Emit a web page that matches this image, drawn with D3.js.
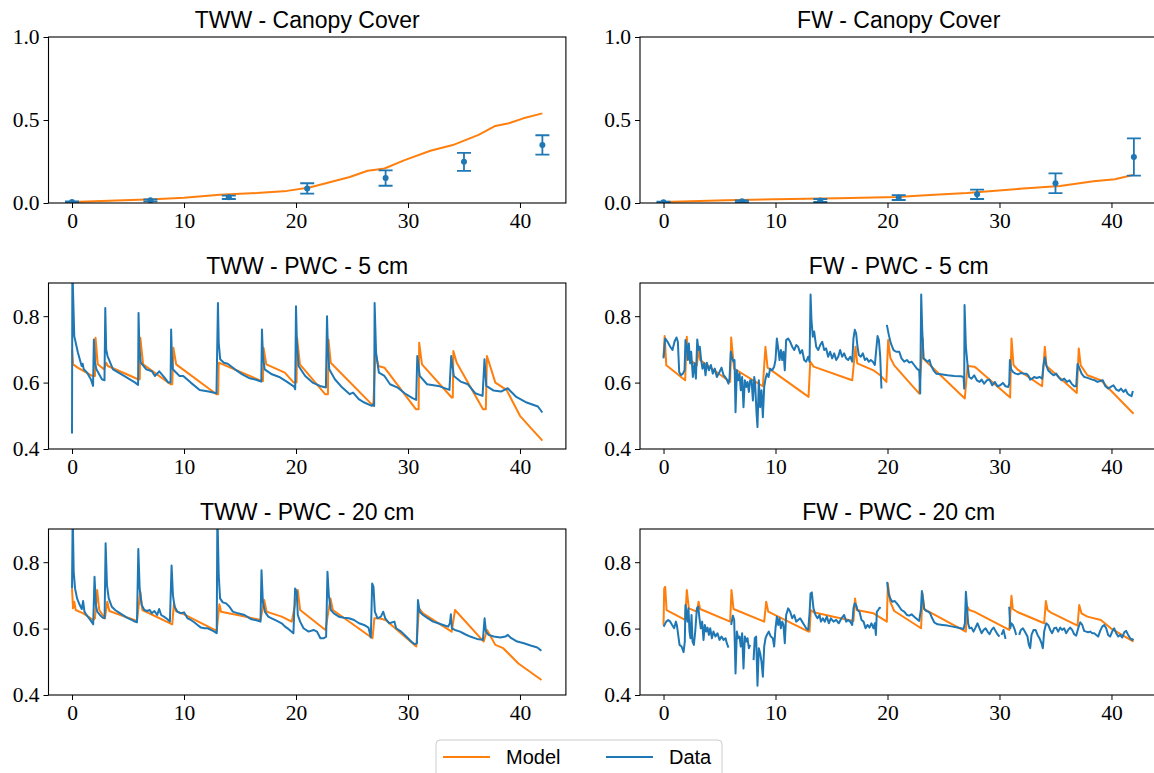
<!DOCTYPE html>
<html>
<head>
<meta charset="utf-8">
<script src="https://cdn.jsdelivr.net/npm/d3@7"></script>
<style>
body { margin: 0; background: #fff; }
svg { display: block; }
.tick text { font-family: "Liberation Serif", serif; font-size: 21.5px; fill: #000; }
.title, .legend text { font-family: "Liberation Sans", Arial, sans-serif; fill: #000; }
</style>
</head>
<body>
<svg id="chart" width="1154" height="773"></svg>
<script>
// canopy cover: measured points (mean, error) at weekly days
const canopyDays = [0, 7, 14, 21, 28, 35, 42];
const twwCanopyMean = [0.006, 0.016, 0.034, 0.088, 0.15, 0.248, 0.35];
const twwCanopyErr = [0.004, 0.006, 0.01, 0.031, 0.046, 0.054, 0.058];
const fwCanopyMean = [0.004, 0.01, 0.015, 0.033, 0.052, 0.119, 0.277];
const fwCanopyErr = [0.004, 0.005, 0.009, 0.015, 0.028, 0.06, 0.112];

// canopy cover model, [day, value]
const twwCanopyModel = [[0,0.006],[3.3,0.014],[7.3,0.022],[10,0.032],[13.2,0.05],[16.5,0.06],[19.2,0.073],
  [21.2,0.093],[23.1,0.127],[24.8,0.157],[26.4,0.194],[27.1,0.2],[27.9,0.208],[29.7,0.258],[32,0.315],
  [34,0.349],[36.3,0.41],[37.8,0.464],[39,0.48],[40.3,0.51],[42,0.54]];
const fwCanopyModel = [[0,0.006],[5.6,0.016],[10,0.022],[15.6,0.028],[20.8,0.036],[23.8,0.048],[27.1,0.06],
  [28.8,0.069],[32.1,0.087],[35.4,0.103],[38.4,0.131],[40.3,0.143],[42,0.17]];

// PWC 5 cm, TWW
const twwPwc5Model = [[0,0.70],[0.1,0.655],[0.5,0.645],[1.8,0.62],[2.05,0.62],[2.1,0.735],[2.3,0.655],[2.85,0.64],
  [3.05,0.66],[3.2,0.65],[5.9,0.61],[6.05,0.61],[6.1,0.735],[6.35,0.655],[8.8,0.595],[8.95,0.595],[9.05,0.705],
  [9.3,0.655],[12.9,0.565],[13.05,0.565],[13.1,0.66],[16.9,0.605],[17.05,0.605],[17.1,0.705],[17.35,0.655],
  [19,0.63],[19.8,0.60],[20.05,0.60],[20.1,0.735],[20.35,0.655],[22.6,0.565],[22.85,0.565],[22.9,0.73],
  [23.1,0.66],[26.9,0.53],[27.1,0.69],[27.35,0.65],[27.9,0.645],[30.7,0.52],[30.95,0.52],[31,0.72],
  [31.25,0.655],[33.9,0.555],[34,0.555],[34.05,0.695],[34.35,0.66],[36.7,0.52],[36.95,0.52],[37.05,0.68],
  [37.8,0.60],[38.8,0.578],[40,0.50],[41,0.462],[42,0.425]];
const twwPwc5Data = [[0,0.447],[0.03,0.95],[0.2,0.74],[0.53,0.69],[0.86,0.65],[0.95,0.657],[1.05,0.64],[1.35,0.63],
  [1.68,0.61],[1.88,0.59],[1.95,0.73],[2.05,0.66],[2.18,0.64],[2.67,0.61],[2.9,0.607],[2.97,0.825],[3.05,0.70],
  [3.17,0.68],[3.66,0.64],[4.65,0.62],[5.64,0.60],[5.9,0.593],[5.94,0.81],[6.02,0.70],[6.14,0.66],[6.63,0.64],
  [7.13,0.634],[7.4,0.62],[7.79,0.634],[8.28,0.614],[8.6,0.60],[8.8,0.60],[8.85,0.76],[8.92,0.68],[9,0.64],
  [9.6,0.62],[9.93,0.62],[10.6,0.60],[11.4,0.578],[12.2,0.573],[12.9,0.568],[13.03,0.84],[13.1,0.72],
  [13.23,0.67],[13.56,0.66],[13.9,0.657],[14.55,0.64],[15.2,0.625],[15.87,0.613],[16.5,0.608],[16.9,0.603],
  [16.96,0.76],[17.05,0.68],[17.2,0.64],[17.85,0.625],[18.5,0.617],[19.17,0.603],[19.83,0.588],[19.93,0.58],
  [20,0.83],[20.08,0.72],[20.23,0.65],[20.82,0.62],[21.48,0.6],[22.14,0.59],[22.67,0.585],[22.77,0.80],
  [22.85,0.70],[22.97,0.64],[23.47,0.61],[24.13,0.585],[24.8,0.565],[25.1,0.57],[25.6,0.55],[26.1,0.54],
  [26.77,0.53],[26.9,0.535],[26.98,0.53],[27.02,0.84],[27.15,0.69],[27.4,0.63],[27.9,0.62],[28.4,0.595],
  [29.07,0.585],[29.7,0.568],[30.4,0.553],[30.73,0.548],[30.83,0.68],[31.05,0.62],[31.7,0.595],[32.7,0.59],
  [33.7,0.578],[33.86,0.68],[34.09,0.62],[34.7,0.603],[35.35,0.595],[36,0.568],[36.66,0.56],[36.83,0.67],
  [36.99,0.59],[37.65,0.576],[38.3,0.573],[38.9,0.583],[39.63,0.558],[40.6,0.54],[41.6,0.528],[42,0.51]];

// PWC 5 cm, FW (null = gap in the record)
const fwPwc5Model = [[0,0.678],[0.1,0.74],[0.25,0.652],[1.93,0.607],[2.08,0.738],[2.2,0.673],[2.98,0.652],
  [3.13,0.703],[3.27,0.668],[5.95,0.602],[6.04,0.736],[6.3,0.642],[8.87,0.589],[9.1,0.708],[9.29,0.645],
  [12.95,0.557],[13.1,0.663],[13.4,0.648],[16.85,0.607],[17.14,0.708],[17.3,0.658],[18.75,0.637],[19.35,0.622],
  [19.9,0.602],[20.06,0.728],[20.25,0.675],[20.6,0.652],[22.83,0.567],[23.15,0.733],[23.2,0.673],[23.5,0.662],
  [26.9,0.552],[27.15,0.65],[27.74,0.648],[28,0.642],[30.95,0.555],[31.07,0.733],[31.25,0.653],[31.6,0.64],
  [33.8,0.589],[34.05,0.708],[34.2,0.65],[36.9,0.569],[37.08,0.703],[37.25,0.652],[37.85,0.622],[39.05,0.607],
  [41.97,0.506]];
const fwPwc5Data = [[0,0.673],[0.15,0.733],[0.36,0.723],[0.6,0.708],[0.8,0.698],[0.98,0.723],[1.16,0.736],
  [1.28,0.723],[1.4,0.632],[1.55,0.622],[1.73,0.627],[1.88,0.637],[1.96,0.728],[2.08,0.708],[2.17,0.668],
  [2.26,0.718],[2.38,0.658],[2.47,0.693],[2.62,0.617],[2.77,0.658],[2.89,0.612],[3.01,0.73],[3.13,0.698],
  [3.24,0.708],[3.36,0.668],[3.48,0.642],[3.63,0.658],[3.75,0.622],[3.87,0.66],[4.05,0.637],[4.23,0.653],
  [4.4,0.627],[4.58,0.642],[4.76,0.617],[5,0.632],[5.18,0.645],[5.36,0.622],[5.51,0.617],[5.65,0.609],
  [5.8,0.597],[5.89,0.612],[6.01,0.693],[6.13,0.673],[6.25,0.663],[6.34,0.668],[6.43,0.511],[6.55,0.637],
  [6.67,0.607],[6.79,0.627],[6.9,0.577],[7.02,0.617],[7.14,0.526],[7.26,0.607],[7.38,0.587],[7.5,0.602],
  [7.62,0.572],[7.74,0.607],[7.86,0.607],[7.98,0.546],[8.1,0.617],[8.18,0.597],[8.3,0.511],[8.39,0.466],
  [8.51,0.607],[8.63,0.526],[8.75,0.577],[8.87,0.496],[8.99,0.587],[9.11,0.612],[9.23,0.627],[9.38,0.617],
  [9.52,0.642],[9.7,0.637],[9.88,0.648],[10,0.668],[10.12,0.733],[10.24,0.703],[10.36,0.668],[10.48,0.698],
  [10.6,0.668],[10.71,0.693],[10.83,0.637],[10.95,0.728],[11.13,0.733],[11.31,0.723],[11.49,0.708],
  [11.67,0.698],[11.85,0.713],[12.02,0.708],[12.2,0.688],[12.38,0.698],[12.56,0.668],[12.74,0.663],
  [12.92,0.678],[13.04,0.663],[13.13,0.865],[13.21,0.789],[13.33,0.738],[13.45,0.754],[13.63,0.708],
  [13.81,0.698],[13.99,0.713],[14.17,0.723],[14.35,0.698],[14.52,0.703],[14.7,0.678],[14.88,0.693],
  [15.06,0.673],[15.24,0.688],[15.42,0.668],[15.6,0.678],[15.77,0.698],[15.95,0.678],[16.13,0.688],
  [16.31,0.673],[16.49,0.668],[16.67,0.678],[16.85,0.663],[16.96,0.733],[17.08,0.759],[17.2,0.748],
  [17.32,0.708],[17.44,0.683],[17.62,0.678],[17.8,0.688],[17.98,0.668],[18.15,0.673],[18.33,0.663],
  [18.51,0.668],[18.69,0.663],[18.87,0.653],[18.99,0.698],[19.11,0.74],[19.23,0.728],[19.35,0.678],
  [19.46,0.582],null,[19.94,0.774],[20.12,0.743],[20.3,0.718],[20.54,0.698],[20.77,0.693],[21.05,0.693],
  [21.25,0.673],[21.49,0.663],[21.73,0.668],[21.94,0.66],[22.15,0.663],[22.38,0.653],[22.62,0.642],
  [22.83,0.637],[22.92,0.567],[23.01,0.865],[23.1,0.759],[23.22,0.673],[23.4,0.668],[23.58,0.663],
  [23.75,0.668],[23.87,0.653],[24.11,0.637],[24.35,0.627],[24.77,0.625],[25.36,0.622],[25.96,0.62],
  [26.55,0.619],[26.79,0.617],[26.85,0.582],[26.88,0.834],[27,0.708],[27.15,0.653],[27.29,0.617],
  [27.5,0.612],[27.74,0.622],[27.98,0.607],[28.22,0.602],[28.4,0.609],[28.63,0.597],[28.87,0.607],
  [29.11,0.609],[29.35,0.592],[29.59,0.602],[29.82,0.589],[30.06,0.592],[30.3,0.599],[30.54,0.589],
  [30.78,0.587],[30.87,0.597],[30.93,0.668],[31.02,0.642],[31.2,0.632],[31.43,0.627],[31.67,0.625],
  [31.91,0.629],[32.15,0.627],[32.38,0.627],[32.56,0.622],[32.74,0.609],[32.92,0.612],[33.1,0.617],
  [33.33,0.614],[33.57,0.617],[33.81,0.612],[33.93,0.653],[34.05,0.676],[34.17,0.653],[34.35,0.637],
  [34.58,0.629],[34.82,0.622],[35.06,0.627],[35.3,0.615],[35.54,0.607],[35.78,0.612],[36.01,0.602],
  [36.25,0.607],[36.43,0.597],[36.67,0.589],[36.85,0.589],[36.97,0.656],[37.15,0.642],[37.33,0.627],
  [37.56,0.617],[37.8,0.615],[38.04,0.612],[38.28,0.609],[38.51,0.607],[38.75,0.602],[38.99,0.605],
  [39.23,0.607],[39.46,0.589],[39.7,0.582],[39.94,0.587],[40.18,0.592],[40.42,0.579],[40.66,0.575],
  [40.84,0.582],[41.08,0.572],[41.26,0.579],[41.43,0.567],[41.61,0.562],[41.79,0.559],[41.91,0.575]];

// PWC 20 cm, TWW
const twwPwc20Model = [[0,0.721],[0.09,0.661],[0.2,0.681],[0.33,0.656],[1,0.646],[1.9,0.626],[2.05,0.631],
  [2.25,0.716],[2.43,0.656],[2.94,0.631],[3.15,0.681],[3.33,0.653],[5.8,0.623],[6.1,0.711],[6.28,0.656],
  [8.95,0.613],[9.1,0.676],[9.28,0.653],[10,0.643],[12.92,0.593],[13.16,0.673],[13.31,0.651],[15.1,0.639],
  [16.83,0.626],[17.16,0.686],[17.37,0.651],[18.72,0.636],[19.62,0.621],[20.16,0.716],[20.37,0.656],
  [22.63,0.596],[23.08,0.691],[23.29,0.656],[26.83,0.571],[27,0.631],[27.4,0.631],[28,0.626],[30.74,0.546],
  [30.98,0.661],[31.34,0.646],[33.9,0.591],[34.2,0.656],[36.76,0.561],[37.06,0.596],[37.8,0.551],
  [38.5,0.541],[39.86,0.495],[41.92,0.445]];
const twwPwc20Data = [[0,0.721],[0.06,0.95],[0.15,0.771],[0.27,0.721],[0.45,0.691],[0.69,0.671],[0.87,0.659],
  [0.99,0.683],[1.11,0.651],[1.29,0.641],[1.53,0.631],[1.74,0.621],[1.89,0.613],[2.01,0.756],[2.13,0.671],
  [2.25,0.651],[2.49,0.641],[2.73,0.633],[2.91,0.631],[3,0.857],[3.12,0.731],[3.28,0.691],[3.55,0.666],
  [3.85,0.656],[4.3,0.646],[4.9,0.633],[5.5,0.623],[5.8,0.619],[5.92,0.84],[6.04,0.721],[6.22,0.671],
  [6.46,0.656],[6.7,0.653],[6.94,0.656],[7.12,0.646],[7.36,0.653],[7.6,0.641],[7.78,0.659],[7.96,0.641],
  [8.2,0.636],[8.5,0.629],[8.74,0.621],[8.89,0.79],[9.01,0.701],[9.16,0.666],[9.41,0.651],[9.71,0.646],
  [10,0.649],[10.31,0.631],[10.61,0.626],[10.91,0.619],[11.21,0.611],[11.51,0.603],[11.81,0.601],
  [12.11,0.601],[12.41,0.596],[12.71,0.591],[12.92,0.586],[12.98,0.95],[13.1,0.761],[13.22,0.691],
  [13.46,0.679],[13.76,0.676],[14.06,0.666],[14.36,0.651],[14.81,0.646],[15.41,0.641],[16.02,0.628],
  [16.47,0.625],[16.83,0.621],[16.92,0.776],[17.04,0.681],[17.22,0.651],[17.52,0.636],[17.82,0.631],
  [18.12,0.626],[18.42,0.621],[18.72,0.616],[19.02,0.606],[19.32,0.599],[19.77,0.586],[19.92,0.721],
  [20.07,0.711],[20.16,0.641],[20.37,0.621],[20.67,0.601],[21.12,0.591],[21.57,0.596],[21.87,0.591],
  [22.18,0.571],[22.48,0.571],[22.69,0.576],[22.81,0.771],[22.93,0.701],[23.11,0.656],[23.38,0.646],
  [23.83,0.636],[24.28,0.633],[24.73,0.631],[25.18,0.626],[25.63,0.616],[26.08,0.611],[26.47,0.603],
  [26.68,0.573],[26.8,0.736],[26.92,0.726],[27.04,0.651],[27.28,0.631],[27.58,0.636],[27.79,0.651],
  [27.97,0.631],[28.33,0.616],[28.79,0.621],[28.94,0.601],[29.39,0.591],[29.84,0.576],[30.29,0.561],
  [30.59,0.553],[30.8,0.556],[30.89,0.686],[31.04,0.651],[31.34,0.641],[31.79,0.631],[32.24,0.621],
  [32.69,0.616],[33.14,0.611],[33.59,0.606],[33.74,0.616],[33.83,0.643],[33.92,0.601],[34.19,0.596],
  [34.65,0.591],[35.1,0.583],[35.55,0.576],[36.15,0.569],[36.69,0.566],[36.84,0.631],[36.96,0.591],
  [37.2,0.581],[37.65,0.576],[38.25,0.573],[38.7,0.576],[38.91,0.581],[39.15,0.573],[39.75,0.561],
  [40.35,0.556],[40.95,0.549],[41.55,0.543],[41.91,0.533]];

// PWC 20 cm, FW (null = gap in the record)
const fwPwc20Model = [[0,0.611],[0.06,0.721],[0.15,0.726],[0.27,0.656],[1.93,0.626],[2.08,0.716],[2.26,0.661],
  [2.98,0.651],[3.13,0.681],[3.27,0.659],[5.95,0.621],[6.07,0.716],[6.25,0.659],[8.99,0.621],[9.17,0.681],
  [9.35,0.651],[12.95,0.591],[13.04,0.591],[13.15,0.656],[13.4,0.649],[15.18,0.636],[16.96,0.623],
  [17.1,0.691],[17.26,0.656],[18.75,0.646],[19.94,0.621],[20.03,0.736],[20.24,0.681],[20.6,0.653],
  [23,0.601],[23.13,0.706],[23.28,0.659],[26.99,0.591],[27.14,0.666],[27.3,0.656],[27.74,0.651],
  [30.87,0.596],[31.07,0.699],[31.19,0.659],[31.6,0.65],[33.99,0.616],[34.14,0.683],[34.29,0.656],
  [34.6,0.648],[36.97,0.609],[37.12,0.671],[37.32,0.646],[37.85,0.636],[39.05,0.626],[39.94,0.601],
  [41.97,0.561]];
const fwPwc20Data = [[0,0.606],[0.06,0.609],[0.24,0.621],[0.42,0.626],[0.6,0.621],[0.77,0.611],[0.95,0.601],
  [1.1,0.621],[1.19,0.611],[1.31,0.581],[1.43,0.551],[1.61,0.546],[1.79,0.529],[1.9,0.561],[1.96,0.671],
  [2.05,0.651],[2.14,0.621],[2.23,0.661],[2.32,0.591],[2.41,0.571],[2.5,0.641],[2.59,0.561],[2.71,0.551],
  [2.83,0.591],[2.98,0.661],[3.1,0.666],[3.21,0.631],[3.33,0.601],[3.45,0.621],[3.57,0.566],[3.69,0.611],
  [3.81,0.591],[3.93,0.603],[4.05,0.581],[4.17,0.601],[4.32,0.571],[4.46,0.591],[4.64,0.576],[4.82,0.586],
  [5,0.566],[5.18,0.576],[5.36,0.566],[5.54,0.571],[5.65,0.556],[5.8,0.543],null,[6.04,0.611],[6.19,0.639],
  [6.31,0.626],[6.43,0.465],[6.55,0.591],[6.67,0.571],[6.79,0.576],[6.9,0.546],[7.02,0.586],[7.14,0.48],
  [7.26,0.576],[7.38,0.561],[7.5,0.571],[7.62,0.541],[7.74,0.551],null,[8.04,0.505],[8.15,0.571],
  [8.27,0.576],[8.39,0.428],[8.51,0.541],[8.63,0.526],[8.75,0.5],[8.87,0.455],[8.99,0.546],[9.11,0.571],
  [9.23,0.581],[9.4,0.591],[9.58,0.576],[9.76,0.571],[9.88,0.546],[10,0.601],[10.12,0.636],[10.24,0.611],
  [10.36,0.631],[10.48,0.601],[10.6,0.621],[10.71,0.611],[10.83,0.556],[10.95,0.641],[11.13,0.661],
  [11.31,0.651],[11.49,0.631],[11.67,0.641],[11.85,0.621],[12.02,0.626],[12.2,0.631],[12.38,0.621],
  [12.56,0.611],[12.74,0.601],[12.92,0.596],[13.04,0.646],[13.13,0.706],[13.24,0.709],[13.39,0.661],
  [13.57,0.641],[13.75,0.631],[13.93,0.641],[14.05,0.621],[14.23,0.631],[14.4,0.621],[14.58,0.636],
  [14.76,0.616],[14.94,0.631],[15.18,0.621],[15.42,0.626],[15.65,0.616],[15.89,0.631],[16.13,0.641],
  [16.31,0.621],[16.49,0.626],[16.67,0.621],[16.85,0.611],[16.96,0.661],[17.08,0.676],[17.2,0.671],
  [17.32,0.656],[17.5,0.651],[17.68,0.626],[17.86,0.621],[18.04,0.601],[18.21,0.611],[18.39,0.603],
  [18.57,0.616],[18.75,0.601],[18.87,0.616],[18.96,0.581],[19.05,0.651],[19.17,0.656],[19.29,0.663],
  [19.4,0.661],null,[19.97,0.741],[20.09,0.706],[20.24,0.691],[20.42,0.681],[20.65,0.683],[20.83,0.676],
  [21.05,0.666],[21.25,0.656],[21.49,0.651],[21.73,0.641],[21.94,0.639],[22.15,0.643],[22.38,0.636],
  [22.62,0.629],[22.83,0.623],[22.98,0.656],[23.07,0.713],[23.16,0.691],[23.28,0.659],[23.46,0.653],
  [23.64,0.651],[23.81,0.646],[23.99,0.631],[24.17,0.619],[24.47,0.613],[24.91,0.611],[25.36,0.609],
  [25.81,0.606],[26.25,0.603],[26.55,0.601],[26.79,0.599],[26.91,0.616],[27,0.711],[27.09,0.671],
  [27.2,0.616],[27.32,0.601],[27.5,0.603],[27.68,0.591],[27.86,0.603],[28.04,0.616],[28.22,0.601],
  [28.4,0.586],[28.58,0.596],[28.76,0.601],[28.93,0.591],[29.11,0.583],[29.29,0.596],[29.47,0.603],
  [29.65,0.593],[29.82,0.583],[30,0.576],null,[30.18,0.581],[30.36,0.596],[30.54,0.569],null,[30.87,0.666],
  [30.96,0.601],[31.07,0.616],[31.19,0.611],[31.37,0.596],[31.49,0.581],null,[31.76,0.581],[31.91,0.596],
  [32.09,0.601],[32.26,0.591],[32.5,0.576],[32.62,0.551],[32.74,0.541],[32.86,0.581],[33.04,0.596],
  [33.22,0.596],[33.4,0.581],[33.57,0.571],[33.75,0.556],[33.87,0.541],[33.99,0.591],[34.17,0.616],
  [34.35,0.611],[34.53,0.596],[34.7,0.586],[34.88,0.601],[35.06,0.603],[35.24,0.591],[35.42,0.603],
  [35.6,0.596],[35.78,0.601],[35.95,0.586],[36.13,0.596],[36.31,0.603],[36.49,0.596],[36.67,0.583],
  [36.85,0.579],[37.03,0.601],[37.21,0.619],[37.39,0.611],[37.56,0.593],[37.74,0.591],[37.92,0.589],
  [38.1,0.591],[38.28,0.586],[38.46,0.586],[38.64,0.581],[38.81,0.576],[38.99,0.593],[39.17,0.606],
  [39.35,0.611],[39.53,0.601],[39.7,0.581],[39.88,0.576],[40.06,0.591],[40.24,0.601],[40.42,0.586],
  [40.6,0.576],[40.78,0.581],[40.96,0.573],[41.14,0.589],[41.31,0.593],[41.49,0.581],[41.67,0.571],
  [41.85,0.566],[41.97,0.569]];

const xTicks = [0, 10, 20, 30, 40];
const canopyTicks = [0, 0.5, 1.0];
const pwcTicks = [0.4, 0.6, 0.8];

const orange = '#ff7f0e', blue = '#1f77b4';
const colX = [48.5, 640], axW = 517.4;
const rowY = [37, 283, 529], axH = 166;

const panels = [
  {title: 'TWW - Canopy Cover', row: 0, col: 0, yDom: [0, 1], ticks: canopyTicks, model: twwCanopyModel, mean: twwCanopyMean, err: twwCanopyErr},
  {title: 'FW - Canopy Cover', row: 0, col: 1, yDom: [0, 1], ticks: canopyTicks, model: fwCanopyModel, mean: fwCanopyMean, err: fwCanopyErr},
  {title: 'TWW - PWC - 5 cm', row: 1, col: 0, yDom: [0.4, 0.9], ticks: pwcTicks, model: twwPwc5Model, data: twwPwc5Data},
  {title: 'FW - PWC - 5 cm', row: 1, col: 1, yDom: [0.4, 0.9], ticks: pwcTicks, model: fwPwc5Model, data: fwPwc5Data},
  {title: 'TWW - PWC - 20 cm', row: 2, col: 0, yDom: [0.4, 0.9], ticks: pwcTicks, model: twwPwc20Model, data: twwPwc20Data},
  {title: 'FW - PWC - 20 cm', row: 2, col: 1, yDom: [0.4, 0.9], ticks: pwcTicks, model: fwPwc20Model, data: fwPwc20Data}
];

const svg = d3.select('#chart');
const defs = svg.append('defs');

panels.forEach(function (p, i) {
  const g = svg.append('g')
    .attr('transform', 'translate(' + colX[p.col] + ',' + rowY[p.row] + ')');
  const x = d3.scaleLinear().domain([-2.1, 44.1]).range([0, axW]);
  const y = d3.scaleLinear().domain(p.yDom).range([axH, 0]);

  defs.append('clipPath').attr('id', 'clip' + i)
    .append('rect').attr('width', axW).attr('height', axH);
  const plot = g.append('g').attr('clip-path', 'url(#clip' + i + ')');

  const line = d3.line()
    .defined(d => d !== null)
    .x(d => x(d[0]))
    .y(d => y(d[1]));

  plot.append('path')
    .datum(p.model)
    .attr('fill', 'none')
    .attr('stroke', orange)
    .attr('stroke-width', 2)
    .attr('stroke-linejoin', 'round')
    .attr('d', line);

  if (p.data) {
    plot.append('path')
      .datum(p.data)
      .attr('fill', 'none')
      .attr('stroke', blue)
      .attr('stroke-width', 2)
      .attr('stroke-linejoin', 'round')
      .attr('d', line);
  }

  if (p.mean) {
    const pts = canopyDays.map((d, k) => ({day: d, m: p.mean[k], e: p.err[k]}));
    const eb = plot.selectAll('.eb').data(pts).enter().append('g')
      .attr('stroke', blue).attr('stroke-width', 1.8);
    eb.append('line')
      .attr('x1', d => x(d.day)).attr('x2', d => x(d.day))
      .attr('y1', d => y(d.m - d.e)).attr('y2', d => y(d.m + d.e));
    eb.append('line')
      .attr('x1', d => x(d.day) - 7).attr('x2', d => x(d.day) + 7)
      .attr('y1', d => y(d.m - d.e)).attr('y2', d => y(d.m - d.e));
    eb.append('line')
      .attr('x1', d => x(d.day) - 7).attr('x2', d => x(d.day) + 7)
      .attr('y1', d => y(d.m + d.e)).attr('y2', d => y(d.m + d.e));
    eb.append('circle')
      .attr('cx', d => x(d.day)).attr('cy', d => y(d.m))
      .attr('r', 3).attr('fill', blue).attr('stroke', 'none');
  }

  // axes (ticks outward, no domain line: the frame is drawn separately)
  const xa = g.append('g')
    .attr('transform', 'translate(0,' + axH + ')')
    .call(d3.axisBottom(x).tickValues(xTicks).tickSize(5).tickPadding(5).tickFormat(d3.format('d')));
  xa.select('.domain').remove();
  const ya = g.append('g')
    .call(d3.axisLeft(y).tickValues(p.ticks).tickSize(5).tickPadding(4).tickFormat(d3.format('.1f')));
  ya.select('.domain').remove();
  g.selectAll('.tick line').attr('stroke', '#000').attr('stroke-width', 1);

  g.append('rect')
    .attr('width', axW).attr('height', axH)
    .attr('fill', 'none').attr('stroke', '#000').attr('stroke-width', 1.1);

  g.append('text')
    .attr('class', 'title')
    .attr('x', axW / 2).attr('y', -9)
    .attr('text-anchor', 'middle')
    .style('font-size', '23px')
    .text(p.title);
});

// legend
const legend = svg.append('g').attr('class', 'legend').attr('transform', 'translate(436,740)');
legend.append('rect')
  .attr('width', 286).attr('height', 44).attr('rx', 4)
  .attr('fill', '#fff').attr('stroke', '#cccccc').attr('stroke-width', 1);
const items = [{name: 'Model', color: orange, x: 7}, {name: 'Data', color: blue, x: 170}];
items.forEach(function (it) {
  legend.append('line')
    .attr('x1', it.x).attr('x2', it.x + 47)
    .attr('y1', 17).attr('y2', 17)
    .attr('stroke', it.color).attr('stroke-width', 2);
  legend.append('text')
    .attr('x', it.x + 63).attr('y', 24)
    .style('font-size', '20px')
    .text(it.name);
});
</script>
</body>
</html>
